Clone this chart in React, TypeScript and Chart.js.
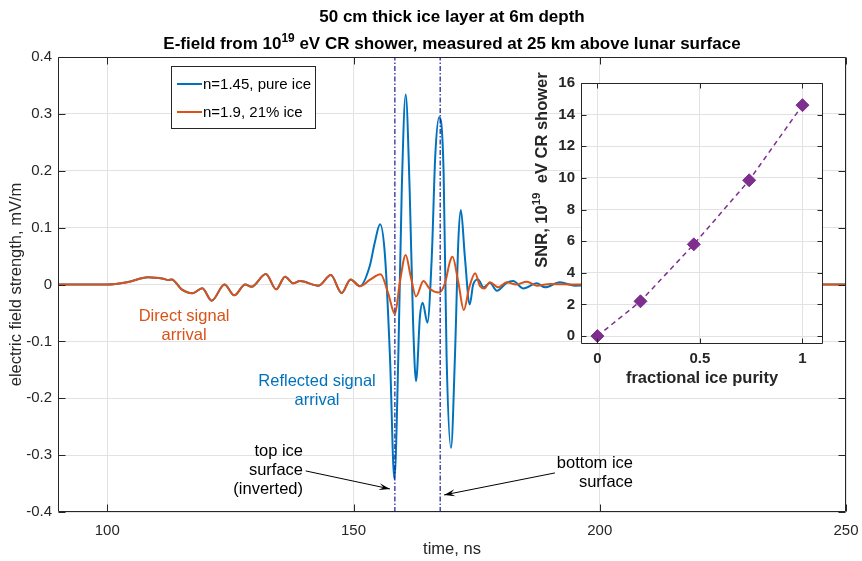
import React, { useEffect, useRef } from 'react';
import { Chart, registerables } from 'chart.js';
Chart.register(...registerables);

const FONT = '"Liberation Sans", Helvetica, Arial, sans-serif';
const AXIS_COLOR = '#262626';
const GRID_COLOR = '#e2e2e2';
const BLUE = '#0072BD';
const ORANGE = '#D95319';
const NAVY = '#1c1c96';
const PURPLE = '#7E2F8E';

// ---------- data ----------
// part of the waveform where both curves coincide (direct signal)
const sharedTimes = [90, 100, 104, 108.3, 111.4, 112.4, 113.1, 115.1, 117.3, 119.3, 121.2, 123.8, 125.8, 128.0, 129.3, 132.2, 134.3, 136.1, 137.8, 139.1, 142.9, 145.4, 147.6, 149.4, 151.3];
const sharedField = [0, 0, 0.004, 0.0127, 0.010, 0.008, 0.009, -0.0085, -0.0152, -0.0067, -0.0285, 0.0, -0.019, 0.0, -0.004, 0.0185, -0.0085, 0.0137, 0.002, 0.006, -0.002, 0.0167, -0.015, 0.009, -0.003];
// n=1.45, pure ice (after divergence)
const pureIceTimes = [153.3, 154.3, 155.4, 156.4, 157.4, 158.3, 159.1, 159.8, 160.6, 161.4, 162.1, 162.7, 163.5, 164.05, 165.0, 165.9, 166.6, 167.4, 168.3, 168.9, 169.8, 170.6, 171.3, 171.8, 172.6, 173.6, 174.3, 175.3, 176.4, 177.7, 179.1, 181.1, 182.4, 184.5, 187.2, 188.9, 191.9, 195, 200, 250];
const pureIceField = [0.0325, 0.073, 0.106, 0.05, -0.126, -0.342, -0.126, 0.167, 0.334, 0.167, -0.067, -0.17, -0.055, -0.032, -0.067, 0.05, 0.226, 0.294, 0.196, -0.126, -0.287, -0.126, 0.079, 0.131, 0.05, -0.035, 0, 0.009, -0.005, 0.003, -0.011, 0.003, 0.006, -0.007, 0.002, -0.005, 0.004, -0.002, 0, 0];
// n=1.9, 21% ice (after divergence)
const mixedIceTimes = [153.3, 155.5, 157.0, 158.4, 159.4, 160.6, 161.6, 162.7, 164.2, 165.5, 167.4, 168.6, 169.6, 170.1, 171.3, 172.4, 173.5, 174.7, 175.7, 176.6, 177.7, 179.4, 181.1, 183.0, 185.2, 187.2, 190, 195, 200, 250];
const mixedIceField = [0.008, 0.018, -0.014, -0.052, 0.003, 0.052, 0.015, -0.021, 0.006, -0.008, -0.014, 0.003, 0.041, 0.049, 0.003, -0.045, -0.005, 0.02, -0.003, -0.007, 0.004, -0.005, 0.004, 0.0, 0.005, -0.002, 0.001, 0, 0, 0];
// ice surfaces (vertical markers)
const interfaceTimes = [158.4, 167.6];
const timeTicks = [100, 150, 200, 250];
const fieldTicks = [-0.4, -0.3, -0.2, -0.1, 0, 0.1, 0.2, 0.3, 0.4];
// inset
const purity = [0, 0.21, 0.47, 0.74, 1];
const snr = [0, 2.2, 5.8, 9.85, 14.6];
const purityTicks = [0, 0.5, 1];
const snrTicks = [0, 2, 4, 6, 8, 10, 12, 14, 16];

const seriesLabels = ['n=1.45, pure ice', 'n=1.9, 21% ice'];

type Part = { text: string; sup?: boolean };

function font(size: number, bold = false) {
  return `${bold ? 'bold ' : ''}${size}px ${FONT}`;
}

function drawParts(ctx: CanvasRenderingContext2D, parts: Part[], x: number, y: number, size: number, bold: boolean, align: 'left' | 'center' | 'right') {
  let w = 0;
  for (const p of parts) {
    ctx.font = font(p.sup ? size * 0.7 : size, bold);
    w += ctx.measureText(p.text).width;
  }
  let cx = align === 'center' ? x - w / 2 : align === 'right' ? x - w : x;
  ctx.textAlign = 'left';
  ctx.textBaseline = 'alphabetic';
  for (const p of parts) {
    ctx.font = font(p.sup ? size * 0.7 : size, bold);
    ctx.fillText(p.text, cx, p.sup ? y - size * 0.42 : y);
    cx += ctx.measureText(p.text).width;
  }
}

function drawBoxTicks(chart: any, xt: number[], yt: number[], len: number) {
  const { ctx, chartArea: a, scales } = chart;
  ctx.save();
  ctx.strokeStyle = AXIS_COLOR;
  ctx.lineWidth = 1;
  const L = Math.round(a.left) + 0.5, R = Math.round(a.right) - 0.5;
  const T = Math.round(a.top) + 0.5, B = Math.round(a.bottom) - 0.5;
  ctx.beginPath();
  ctx.rect(L, T, R - L, B - T);
  for (const v of xt) {
    const px = Math.round(scales.x.getPixelForValue(v)) + 0.5;
    ctx.moveTo(px, B); ctx.lineTo(px, B - len);
    ctx.moveTo(px, T); ctx.lineTo(px, T + len);
  }
  for (const v of yt) {
    const py = Math.round(scales.y.getPixelForValue(v)) + 0.5;
    ctx.moveTo(L, py); ctx.lineTo(L + len, py);
    ctx.moveTo(R, py); ctx.lineTo(R - len, py);
  }
  ctx.stroke();
  ctx.restore();
}

function arrow(ctx: CanvasRenderingContext2D, x1: number, y1: number, x2: number, y2: number) {
  ctx.beginPath();
  ctx.moveTo(x1, y1);
  ctx.lineTo(x2, y2);
  ctx.stroke();
  const ang = Math.atan2(y2 - y1, x2 - x1);
  const hl = 11, hw = 3.5;
  const bx = x2 - hl * Math.cos(ang), by = y2 - hl * Math.sin(ang);
  const nx = -Math.sin(ang), ny = Math.cos(ang);
  const mx = x2 - hl * 0.6 * Math.cos(ang), my = y2 - hl * 0.6 * Math.sin(ang);
  ctx.beginPath();
  ctx.moveTo(x2, y2);
  ctx.lineTo(bx + nx * hw, by + ny * hw);
  ctx.lineTo(mx, my);
  ctx.lineTo(bx - nx * hw, by - ny * hw);
  ctx.closePath();
  ctx.fill();
}

const mainDecor = {
  id: 'mainDecor',
  afterDraw(chart: any) {
    const { ctx, chartArea: a, scales } = chart;
    const X = (v: number) => scales.x.getPixelForValue(v);
    const Y = (v: number) => scales.y.getPixelForValue(v);
    drawBoxTicks(chart, timeTicks, fieldTicks, 7);
    ctx.save();
    // titles
    ctx.fillStyle = '#000';
    const cx = (a.left + a.right) / 2;
    drawParts(ctx, [{ text: '50 cm thick ice layer at 6m depth' }], cx, 22, 17, true, 'center');
    drawParts(ctx, [{ text: 'E-field from 10' }, { text: '19', sup: true }, { text: ' eV CR shower, measured at 25 km above lunar surface' }], cx, 49, 17, true, 'center');
    // axis titles
    ctx.fillStyle = AXIS_COLOR;
    ctx.font = font(16.5);
    ctx.textAlign = 'center';
    ctx.textBaseline = 'middle';
    ctx.fillText('time, ns', cx, 549);
    ctx.save();
    ctx.translate(16, (a.top + a.bottom) / 2);
    ctx.rotate(-Math.PI / 2);
    ctx.fillText('electric field strength, mV/m', 0, 0);
    ctx.restore();
    // legend
    const lx = 171, ly = 66, lw = 144, lh = 62;
    ctx.fillStyle = '#fff';
    ctx.fillRect(lx, ly, lw, lh);
    ctx.strokeStyle = AXIS_COLOR;
    ctx.lineWidth = 1;
    ctx.strokeRect(lx + 0.5, ly + 0.5, lw, lh);
    const rows = [84, 112];
    const cols = [BLUE, ORANGE];
    ctx.font = font(15);
    ctx.textAlign = 'left';
    ctx.textBaseline = 'middle';
    for (let i = 0; i < 2; i++) {
      ctx.strokeStyle = cols[i];
      ctx.lineWidth = 2;
      ctx.beginPath();
      ctx.moveTo(177, rows[i]);
      ctx.lineTo(202, rows[i]);
      ctx.stroke();
      ctx.fillStyle = '#000';
      ctx.fillText(seriesLabels[i], 203, rows[i] + 1);
    }
    // annotations
    ctx.font = font(16.5);
    ctx.textAlign = 'center';
    ctx.fillStyle = ORANGE;
    ctx.fillText('Direct signal', X(115.6), Y(-0.0554));
    ctx.fillText('arrival', X(115.6), Y(-0.0888));
    ctx.fillStyle = BLUE;
    ctx.fillText('Reflected signal', X(142.6), Y(-0.1713));
    ctx.fillText('arrival', X(142.6), Y(-0.2047));
    ctx.fillStyle = '#000';
    ctx.textAlign = 'right';
    ctx.fillText('top ice', X(139.75), Y(-0.2944));
    ctx.fillText('surface', X(139.75), Y(-0.3278));
    ctx.fillText('(inverted)', X(139.75), Y(-0.3612));
    ctx.fillText('bottom ice', X(206.75), Y(-0.3155));
    ctx.fillText('surface', X(206.75), Y(-0.3489));
    ctx.strokeStyle = '#000';
    ctx.lineWidth = 1;
    arrow(ctx, X(140.3), Y(-0.3278), X(157.4), Y(-0.3594));
    arrow(ctx, X(190.9), Y(-0.3313), X(168.4), Y(-0.37));
    ctx.restore();
  },
};

const insetDecor = {
  id: 'insetDecor',
  beforeDraw(chart: any) {
    const { ctx, chartArea: a } = chart;
    ctx.save();
    ctx.fillStyle = '#fff';
    ctx.fillRect(a.left, a.top, a.right - a.left, a.bottom - a.top);
    ctx.restore();
  },
  afterDraw(chart: any) {
    const { ctx, chartArea: a } = chart;
    drawBoxTicks(chart, purityTicks, snrTicks, 5);
    ctx.save();
    ctx.fillStyle = AXIS_COLOR;
    ctx.font = font(16.5, true);
    ctx.textAlign = 'center';
    ctx.textBaseline = 'middle';
    ctx.fillText('fractional ice purity', (a.left + a.right) / 2, 318);
    ctx.translate(27, 110);
    ctx.rotate(-Math.PI / 2);
    drawParts(ctx, [{ text: 'SNR, 10' }, { text: '19', sup: true }, { text: '  eV CR shower' }], 0, 0, 16.5, true, 'center');
    ctx.restore();
  },
};

function pts(xs: number[], ys: number[]) {
  return xs.map((x, i) => ({ x, y: ys[i] }));
}

function noPad(s: any) {
  s.paddingLeft = 0;
  s.paddingRight = 0;
  s.paddingTop = 0;
  s.paddingBottom = 0;
}

export default function App() {
  const mainRef = useRef<HTMLCanvasElement>(null);
  const insetRef = useRef<HTMLCanvasElement>(null);

  useEffect(() => {
    document.body.style.margin = '0';
    const blue = pts(sharedTimes.concat(pureIceTimes), sharedField.concat(pureIceField));
    const orange = pts(sharedTimes.concat(mixedIceTimes), sharedField.concat(mixedIceField));
    const vlines = interfaceTimes.map((t) => ({
      data: [{ x: t, y: fieldTicks[0] }, { x: t, y: fieldTicks[fieldTicks.length - 1] }],
      borderColor: NAVY,
      borderWidth: 1.2,
      borderDash: [5, 2, 1.5, 2],
      pointRadius: 0,
      order: 0,
    }));
    const main = new Chart(mainRef.current!, {
      type: 'line',
      data: {
        datasets: [
          { label: seriesLabels[0], data: blue, borderColor: BLUE, borderWidth: 2, pointRadius: 0, cubicInterpolationMode: 'monotone', order: 2 } as any,
          { label: seriesLabels[1], data: orange, borderColor: ORANGE, borderWidth: 2, pointRadius: 0, cubicInterpolationMode: 'monotone', order: 1 } as any,
          ...vlines,
        ],
      },
      options: {
        animation: false,
        responsive: false,
        maintainAspectRatio: false,
        devicePixelRatio: 1,
        layout: { padding: { left: 0, right: 16, top: 57, bottom: 0 } },
        plugins: { legend: { display: false }, tooltip: { enabled: false }, title: { display: false } },
        scales: {
          x: {
            type: 'linear', min: 90, max: 250,
            afterBuildTicks: (s: any) => { s.ticks = timeTicks.map((v) => ({ value: v })); },
            afterFit: (s: any) => { s.height = 49; noPad(s); },
            ticks: { font: { family: FONT, size: 15 }, color: AXIS_COLOR, padding: 10, maxRotation: 0, autoSkip: false },
            grid: { color: GRID_COLOR, drawTicks: false },
            border: { display: false },
          },
          y: {
            type: 'linear', min: -0.4, max: 0.4,
            afterBuildTicks: (s: any) => { s.ticks = fieldTicks.map((v) => ({ value: v })); },
            afterFit: (s: any) => { s.width = 58; noPad(s); },
            ticks: { font: { family: FONT, size: 15 }, color: AXIS_COLOR, padding: 6, autoSkip: false, callback: (v: any) => (Number(v) === 0 ? '0' : Number(v).toFixed(1)) },
            grid: { color: GRID_COLOR, drawTicks: false },
            border: { display: false },
          },
        },
      } as any,
      plugins: [mainDecor],
    });

    const inset = new Chart(insetRef.current!, {
      type: 'line',
      data: {
        datasets: [
          {
            data: pts(purity, snr),
            borderColor: PURPLE,
            borderWidth: 1.5,
            borderDash: [5, 4],
            pointStyle: 'rectRot',
            pointRadius: 6.5,
            pointBorderWidth: 1,
            pointBackgroundColor: PURPLE,
            pointBorderColor: PURPLE,
            tension: 0,
          } as any,
        ],
      },
      options: {
        animation: false,
        responsive: false,
        maintainAspectRatio: false,
        devicePixelRatio: 1,
        layout: { padding: { left: 0, right: 27, top: 23, bottom: 0 } },
        plugins: { legend: { display: false }, tooltip: { enabled: false } },
        scales: {
          x: {
            type: 'linear', min: -0.08, max: 1.1,
            afterBuildTicks: (s: any) => { s.ticks = purityTicks.map((v) => ({ value: v })); },
            afterFit: (s: any) => { s.height = 56; noPad(s); },
            ticks: { font: { family: FONT, size: 15, weight: 'bold' }, color: AXIS_COLOR, padding: 6, maxRotation: 0, autoSkip: false, callback: (v: any) => String(v) },
            grid: { color: GRID_COLOR, drawTicks: false },
            border: { display: false },
          },
          y: {
            type: 'linear', min: -0.5, max: 16,
            afterBuildTicks: (s: any) => { s.ticks = snrTicks.map((v) => ({ value: v })); },
            afterFit: (s: any) => { s.width = 61; noPad(s); },
            ticks: { font: { family: FONT, size: 15, weight: 'bold' }, color: AXIS_COLOR, padding: 6, autoSkip: false },
            grid: { color: GRID_COLOR, drawTicks: false },
            border: { display: false },
          },
        },
      } as any,
      plugins: [insetDecor],
    });

    return () => {
      main.destroy();
      inset.destroy();
    };
  }, []);

  return (
    <div style={{ position: 'relative', width: 862, height: 561, background: '#fff' }}>
      <canvas ref={mainRef} width={862} height={561} style={{ position: 'absolute', left: 0, top: 0, width: 862, height: 561 }} />
      <canvas ref={insetRef} width={330} height={340} style={{ position: 'absolute', left: 520, top: 60, width: 330, height: 340 }} />
    </div>
  );
}
